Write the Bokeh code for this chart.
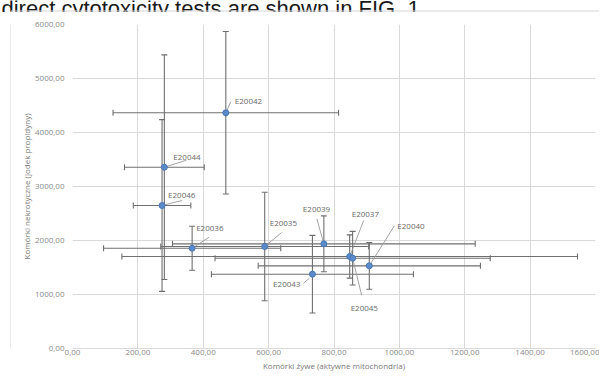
from bokeh.plotting import figure
from bokeh.layouts import column, row
from bokeh.models import ColumnDataSource, Whisker, TeeHead, Range1d
from bokeh.embed import file_html
from bokeh.resources import INLINE
from bokeh.core.properties import value

# ---- data ----
names = ["E20035", "E20036", "E20037", "E20039", "E20040",
         "E20042", "E20043", "E20044", "E20045", "E20046"]
x_live = [588, 366, 848, 769, 908, 469, 734, 281, 857, 274]
y_necro = [1889, 1857, 1704, 1938, 1531, 4365, 1376, 3357, 1672, 2648]
x_err = [318, 271, 697, 463, 340, 345, 309, 122, 421, 88]
y_err = [1005, 408, 401, 518, 433, 1505, 718, 2080, 497, 1590]

x_ticks = [0, 200, 400, 600, 800, 1000, 1200, 1400, 1600]
x_tick_labels = ["0,00", "200,00", "400,00", "600,00", "800,00",
                 "1000,00", "1200,00", "1400,00", "1600,00"]
y_ticks = [0, 1000, 2000, 3000, 4000, 5000, 6000]
y_tick_labels = ["0,00", "1000,00", "2000,00", "3000,00",
                 "4000,00", "5000,00", "6000,00"]
caption_text = "direct cytotoxicity tests are shown in FIG. 1."

# ---- label layout (pixel offsets from each point) ----
lab_dx = [5, 4, 2, -21, 28, 9, -12, 9, -2, 6]
lab_dy = [-24, -21, -43, -35, -40, -12, 9, -11, 49, -11]
lab_align = ["left"] * 6 + ["right"] + ["left"] * 3
lead_dx = [17, 17, 14, -7, 25, 5, -3, 22, 9, 20]
lead_dy = [-14, -11, -36, -25, -40, -11, 4, -7, 37, -5]
lead_sx = [0, 0, 0, 0, 0, 0, -9, 0, 0, 0]
lead_sy = [0, 0, 0, 0, 0, 0, 9, 0, 0, 0]

CAP_H = 12          # height of the cropped caption strip
STRIP_W = 11        # width of the strip carrying the chart-area border
ML, MR, MT, MB = 72 - STRIP_W, 4, 24 - CAP_H, 25
FW, FH = 523, 324
MAIN_W = ML + FW + MR
MAIN_H = MT + FH + MB
TOTAL_W = STRIP_W + MAIN_W
XMAX, YMAX = 1600, 6000
ux = XMAX / FW   # data units per pixel
uy = YMAX / FH
font = "Open Sans"
bcol = "#d6d6d6"

# ---- cropped caption strip above the chart ----
cap = figure(width=TOTAL_W, height=CAP_H, output_backend="svg",
             toolbar_location=None, x_range=Range1d(0, TOTAL_W),
             y_range=Range1d(CAP_H, 0), min_border=0,
             x_axis_location=None, y_axis_location=None)
cap.outline_line_color = None
cap.grid.visible = False
cap.text(x=[1], y=[8], text=[caption_text], text_font=value("Liberation Sans"),
         text_font_size="22px", text_color="#1a1a1a",
         text_baseline="alphabetic", text_align="left")
cap.segment(x0=[10.5], y0=[10.5], x1=[TOTAL_W], y1=[10.5],
            line_color=bcol, line_width=1)
cap.segment(x0=[10.5], y0=[10.5], x1=[10.5], y1=[CAP_H],
            line_color=bcol, line_width=1)

# ---- left strip with the chart-area border ----
strip = figure(width=STRIP_W, height=MAIN_H, output_backend="svg",
               toolbar_location=None, x_range=Range1d(0, STRIP_W),
               y_range=Range1d(0, MAIN_H), min_border=0,
               x_axis_location=None, y_axis_location=None)
strip.outline_line_color = None
strip.grid.visible = False
strip.segment(x0=[10.5], y0=[0], x1=[10.5], y1=[MAIN_H],
              line_color=bcol, line_width=1)

# ---- main chart ----
p = figure(frame_width=FW, frame_height=FH, output_backend="svg",
           toolbar_location=None,
           x_range=Range1d(0, XMAX), y_range=Range1d(0, YMAX),
           min_border_left=ML, min_border_right=MR,
           min_border_top=MT, min_border_bottom=MB)
p.background_fill_color = "white"
p.border_fill_color = "white"
p.outline_line_color = None

for ax in (p.xaxis[0], p.yaxis[0]):
    ax.major_tick_line_color = None
    ax.minor_tick_line_color = None
    ax.major_tick_out = 0
    ax.major_tick_in = 0
    ax.major_label_text_font = font
    ax.major_label_text_font_size = "8px"
    ax.major_label_text_color = "#8a8a8a"
    ax.axis_label_text_font = font
    ax.axis_label_text_font_size = "8px"
    ax.axis_label_text_font_style = "normal"
    ax.axis_label_text_color = "#7a7a7a"

p.xaxis.ticker = x_ticks
p.xaxis.major_label_overrides = dict(zip(x_ticks, x_tick_labels))
p.yaxis.ticker = y_ticks
p.yaxis.major_label_overrides = dict(zip(y_ticks, y_tick_labels))
p.xaxis.axis_line_color = "#d9d9d9"
p.yaxis.axis_line_color = None
p.xaxis.major_label_standoff = 1
p.yaxis.major_label_standoff = 8
p.xaxis.axis_label_standoff = 2
p.yaxis.axis_label_standoff = 0
p.xaxis.axis_label = "Komórki żywe (aktywne mitochondria)"
p.yaxis.axis_label = "Komórki nekrotyczne (jodek propidyny)"

p.xgrid.grid_line_color = "#d9d9d9"
p.ygrid.grid_line_color = "#d9d9d9"

src = ColumnDataSource(dict(
    name=names, x=x_live, y=y_necro,
    xl=[a - e for a, e in zip(x_live, x_err)],
    xu=[a + e for a, e in zip(x_live, x_err)],
    yl=[a - e for a, e in zip(y_necro, y_err)],
    yu=[a + e for a, e in zip(y_necro, y_err)],
    lx=[a + d * ux for a, d in zip(x_live, lab_dx)],
    ly=[a - d * uy for a, d in zip(y_necro, lab_dy)],
    align=lab_align,
    sx=[a + d * ux for a, d in zip(x_live, lead_sx)],
    sy=[a - d * uy for a, d in zip(y_necro, lead_sy)],
    ex=[a + d * ux for a, d in zip(x_live, lead_dx)],
    ey=[a - d * uy for a, d in zip(y_necro, lead_dy)],
))

ecol = "#6f6f6f"
def tee():
    return TeeHead(size=6, line_color=ecol, line_width=1.1)
wx = Whisker(source=src, base="y", lower="xl", upper="xu", dimension="width",
             line_color=ecol, line_width=1.1, lower_head=tee(), upper_head=tee())
wy = Whisker(source=src, base="x", lower="yl", upper="yu", dimension="height",
             line_color=ecol, line_width=1.1, lower_head=tee(), upper_head=tee())
p.add_layout(wx)
p.add_layout(wy)

p.segment(x0="sx", y0="sy", x1="ex", y1="ey", source=src,
          line_color="#9a9a9a", line_width=0.9)

p.scatter(x="x", y="y", source=src, size=6, marker="circle",
          fill_color="#5b8ac8", line_color="#4a78b5", line_width=1)

p.text(x="lx", y="ly", text="name", source=src, text_align="align",
       text_baseline="middle", text_font_size="8px",
       text_font=value(font), text_color="#6a6a6a")

layout = column(cap, row(strip, p, spacing=0), spacing=0)

open("out.html", "w").write(file_html(layout, INLINE))
